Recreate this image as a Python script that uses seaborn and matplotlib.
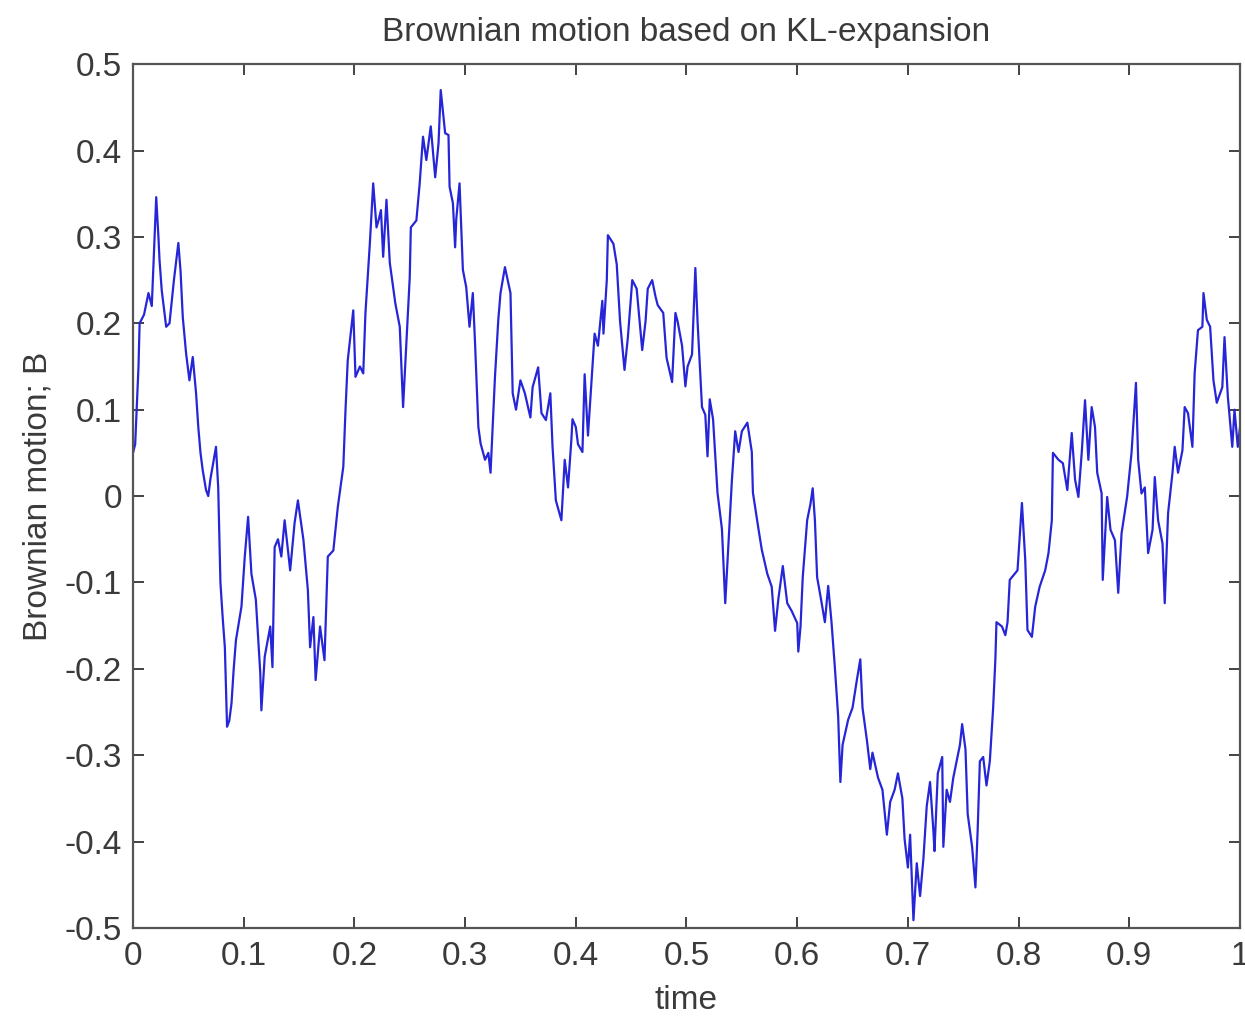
import matplotlib
matplotlib.use("Agg")
import matplotlib.pyplot as plt
import seaborn as sns
import pandas as pd

# Sampled path of the KL-expansion Brownian motion
time = [
    0.000, 0.002, 0.005, 0.006, 0.010, 0.014, 0.017, 0.021, 0.023, 0.024,
    0.026, 0.030, 0.033, 0.037, 0.041, 0.043, 0.045, 0.048, 0.051, 0.054,
    0.057, 0.059, 0.061, 0.063, 0.066, 0.068, 0.070, 0.075, 0.077, 0.079,
    0.081, 0.083, 0.085, 0.087, 0.089, 0.091, 0.093, 0.098, 0.101, 0.104,
    0.107, 0.111, 0.115, 0.116, 0.119, 0.124, 0.126, 0.128, 0.131, 0.134,
    0.137, 0.142, 0.146, 0.149, 0.154, 0.158, 0.160, 0.163, 0.165, 0.169,
    0.173, 0.176, 0.181, 0.185, 0.190, 0.192, 0.194, 0.196, 0.199, 0.201,
    0.205, 0.208, 0.210, 0.214, 0.217, 0.220, 0.222, 0.224, 0.226, 0.229,
    0.232, 0.237, 0.241, 0.244, 0.247, 0.250, 0.251, 0.256, 0.259, 0.262,
    0.265, 0.269, 0.273, 0.276, 0.278, 0.282, 0.285, 0.286, 0.289, 0.291,
    0.292, 0.295, 0.296, 0.298, 0.301, 0.304, 0.307, 0.309, 0.312, 0.314,
    0.318, 0.321, 0.323, 0.327, 0.330, 0.332, 0.336, 0.341, 0.343, 0.346,
    0.350, 0.354, 0.359, 0.361, 0.366, 0.369, 0.373, 0.377, 0.379, 0.382,
    0.387, 0.390, 0.393, 0.396, 0.397, 0.400, 0.402, 0.406, 0.408, 0.411,
    0.415, 0.417, 0.420, 0.424, 0.425, 0.428, 0.429, 0.434, 0.437, 0.440,
    0.444, 0.447, 0.451, 0.455, 0.460, 0.463, 0.465, 0.469, 0.472, 0.474,
    0.479, 0.482, 0.487, 0.490, 0.492, 0.496, 0.499, 0.501, 0.505, 0.508,
    0.510, 0.514, 0.517, 0.519, 0.521, 0.524, 0.528, 0.532, 0.535, 0.537,
    0.541, 0.544, 0.547, 0.550, 0.555, 0.559, 0.560, 0.565, 0.568, 0.573,
    0.577, 0.580, 0.583, 0.587, 0.591, 0.595, 0.600, 0.601, 0.603, 0.605,
    0.609, 0.612, 0.614, 0.616, 0.618, 0.622, 0.625, 0.628, 0.631, 0.634,
    0.637, 0.639, 0.641, 0.646, 0.650, 0.654, 0.657, 0.659, 0.663, 0.666,
    0.668, 0.673, 0.677, 0.681, 0.684, 0.688, 0.691, 0.695, 0.697, 0.700,
    0.702, 0.705, 0.708, 0.711, 0.714, 0.717, 0.720, 0.723, 0.724, 0.727,
    0.731, 0.732, 0.735, 0.738, 0.741, 0.744, 0.747, 0.749, 0.752, 0.754,
    0.758, 0.761, 0.763, 0.765, 0.768, 0.771, 0.774, 0.777, 0.779, 0.780,
    0.785, 0.788, 0.790, 0.792, 0.799, 0.803, 0.806, 0.808, 0.812, 0.815,
    0.819, 0.824, 0.827, 0.830, 0.831, 0.836, 0.840, 0.844, 0.848, 0.851,
    0.854, 0.857, 0.860, 0.863, 0.866, 0.869, 0.871, 0.875, 0.876, 0.880,
    0.883, 0.887, 0.890, 0.893, 0.898, 0.902, 0.906, 0.908, 0.911, 0.914,
    0.917, 0.921, 0.923, 0.926, 0.930, 0.932, 0.935, 0.939, 0.941, 0.944,
    0.948, 0.950, 0.953, 0.957, 0.959, 0.962, 0.966, 0.967, 0.970, 0.973,
    0.976, 0.979, 0.984, 0.986, 0.989, 0.993, 0.995, 0.998, 1.000,
]

brownian = [
    0.050, 0.060, 0.150, 0.200, 0.210, 0.235, 0.220, 0.346, 0.300, 0.273,
    0.238, 0.196, 0.200, 0.250, 0.293, 0.260, 0.207, 0.165, 0.134, 0.161,
    0.119, 0.080, 0.050, 0.030, 0.007, 0.000, 0.020, 0.057, 0.010, -0.100,
    -0.140, -0.175, -0.267, -0.260, -0.240, -0.200, -0.167, -0.128, -0.070, -0.024,
    -0.090, -0.120, -0.205, -0.248, -0.186, -0.151, -0.198, -0.059, -0.050, -0.070,
    -0.028, -0.086, -0.031, -0.005, -0.051, -0.109, -0.175, -0.140, -0.213, -0.151,
    -0.190, -0.070, -0.063, -0.013, 0.034, 0.100, 0.157, 0.180, 0.215, 0.138,
    0.150, 0.142, 0.212, 0.293, 0.362, 0.311, 0.320, 0.331, 0.277, 0.343,
    0.270, 0.223, 0.196, 0.103, 0.177, 0.253, 0.311, 0.319, 0.362, 0.416,
    0.389, 0.428, 0.369, 0.408, 0.470, 0.420, 0.418, 0.358, 0.339, 0.288,
    0.320, 0.362, 0.328, 0.262, 0.242, 0.196, 0.235, 0.177, 0.080, 0.061,
    0.042, 0.050, 0.027, 0.138, 0.204, 0.235, 0.265, 0.235, 0.119, 0.100,
    0.134, 0.119, 0.091, 0.126, 0.149, 0.096, 0.088, 0.119, 0.057, -0.005,
    -0.028, 0.042, 0.010, 0.065, 0.089, 0.080, 0.060, 0.051, 0.141, 0.070,
    0.150, 0.188, 0.174, 0.226, 0.188, 0.250, 0.302, 0.292, 0.268, 0.202,
    0.146, 0.183, 0.250, 0.240, 0.169, 0.202, 0.240, 0.250, 0.231, 0.221,
    0.212, 0.160, 0.132, 0.212, 0.202, 0.174, 0.127, 0.150, 0.164, 0.264,
    0.202, 0.103, 0.094, 0.046, 0.112, 0.089, 0.004, -0.038, -0.124, -0.076,
    0.018, 0.075, 0.051, 0.075, 0.085, 0.051, 0.004, -0.038, -0.062, -0.090,
    -0.105, -0.156, -0.119, -0.081, -0.124, -0.133, -0.147, -0.180, -0.151, -0.094,
    -0.028, -0.009, 0.009, -0.028, -0.094, -0.123, -0.146, -0.104, -0.146, -0.198,
    -0.255, -0.331, -0.288, -0.259, -0.245, -0.212, -0.189, -0.245, -0.283, -0.316,
    -0.297, -0.326, -0.340, -0.392, -0.354, -0.340, -0.321, -0.350, -0.397, -0.430,
    -0.392, -0.491, -0.425, -0.463, -0.420, -0.359, -0.331, -0.387, -0.411, -0.321,
    -0.302, -0.406, -0.340, -0.354, -0.326, -0.307, -0.288, -0.264, -0.293, -0.368,
    -0.406, -0.453, -0.387, -0.307, -0.302, -0.335, -0.307, -0.245, -0.189, -0.146,
    -0.151, -0.161, -0.146, -0.097, -0.086, -0.008, -0.074, -0.155, -0.163, -0.128,
    -0.105, -0.086, -0.066, -0.028, 0.050, 0.042, 0.038, 0.007, 0.073, 0.019,
    -0.001, 0.050, 0.111, 0.042, 0.103, 0.080, 0.027, 0.003, -0.097, -0.001,
    -0.039, -0.051, -0.112, -0.043, -0.001, 0.050, 0.131, 0.042, 0.003, 0.010,
    -0.066, -0.039, 0.022, -0.028, -0.055, -0.124, -0.020, 0.027, 0.057, 0.027,
    0.053, 0.103, 0.096, 0.057, 0.142, 0.192, 0.196, 0.235, 0.204, 0.196,
    0.134, 0.108, 0.126, 0.184, 0.115, 0.057, 0.100, 0.057, 0.080,
]

x_ticks = [0, 0.1, 0.2, 0.3, 0.4, 0.5, 0.6, 0.7, 0.8, 0.9, 1]
x_tick_labels = ["0", "0.1", "0.2", "0.3", "0.4", "0.5", "0.6", "0.7", "0.8", "0.9", "1"]
y_ticks = [-0.5, -0.4, -0.3, -0.2, -0.1, 0, 0.1, 0.2, 0.3, 0.4, 0.5]
y_tick_labels = ["-0.5", "-0.4", "-0.3", "-0.2", "-0.1", "0", "0.1", "0.2", "0.3", "0.4", "0.5"]

sns.set_style("white")
plt.rcParams["font.family"] = ["Liberation Sans", "DejaVu Sans"]
plt.rcParams["axes.unicode_minus"] = False

df = pd.DataFrame({"time": time, "B": brownian})

fig = plt.figure(figsize=(12.45, 10.18), dpi=100)
ax = fig.add_axes([0.1068, 0.0884, 0.8892, 0.8486])

sns.lineplot(data=df, x="time", y="B", sort=False, estimator=None,
             color="#2626d8", linewidth=1.6, ax=ax)

ax.set_xlim(0, 1)
ax.set_ylim(-0.5, 0.5)
ax.set_xticks(x_ticks)
ax.set_xticklabels(x_tick_labels)
ax.set_yticks(y_ticks)
ax.set_yticklabels(y_tick_labels)

text_color = "#3a3a3a"
ax.tick_params(direction="in", length=8, width=1.2, colors="#222222",
               labelcolor=text_color, labelsize=24, top=True, right=True,
               bottom=True, left=True)
ax.tick_params(axis="x", pad=9)
ax.tick_params(axis="y", pad=8)
for side in ax.spines.values():
    side.set_color("#555555")
    side.set_linewidth(1.6)

ax.set_xlabel("time", fontsize=24, color=text_color, labelpad=10)
ax.set_ylabel("Brownian motion; B", fontsize=24, color=text_color, labelpad=8)
ax.set_title("Brownian motion based on KL-expansion", fontsize=24,
             color=text_color, pad=17)

fig.savefig("out.png", dpi=100, facecolor="white")
